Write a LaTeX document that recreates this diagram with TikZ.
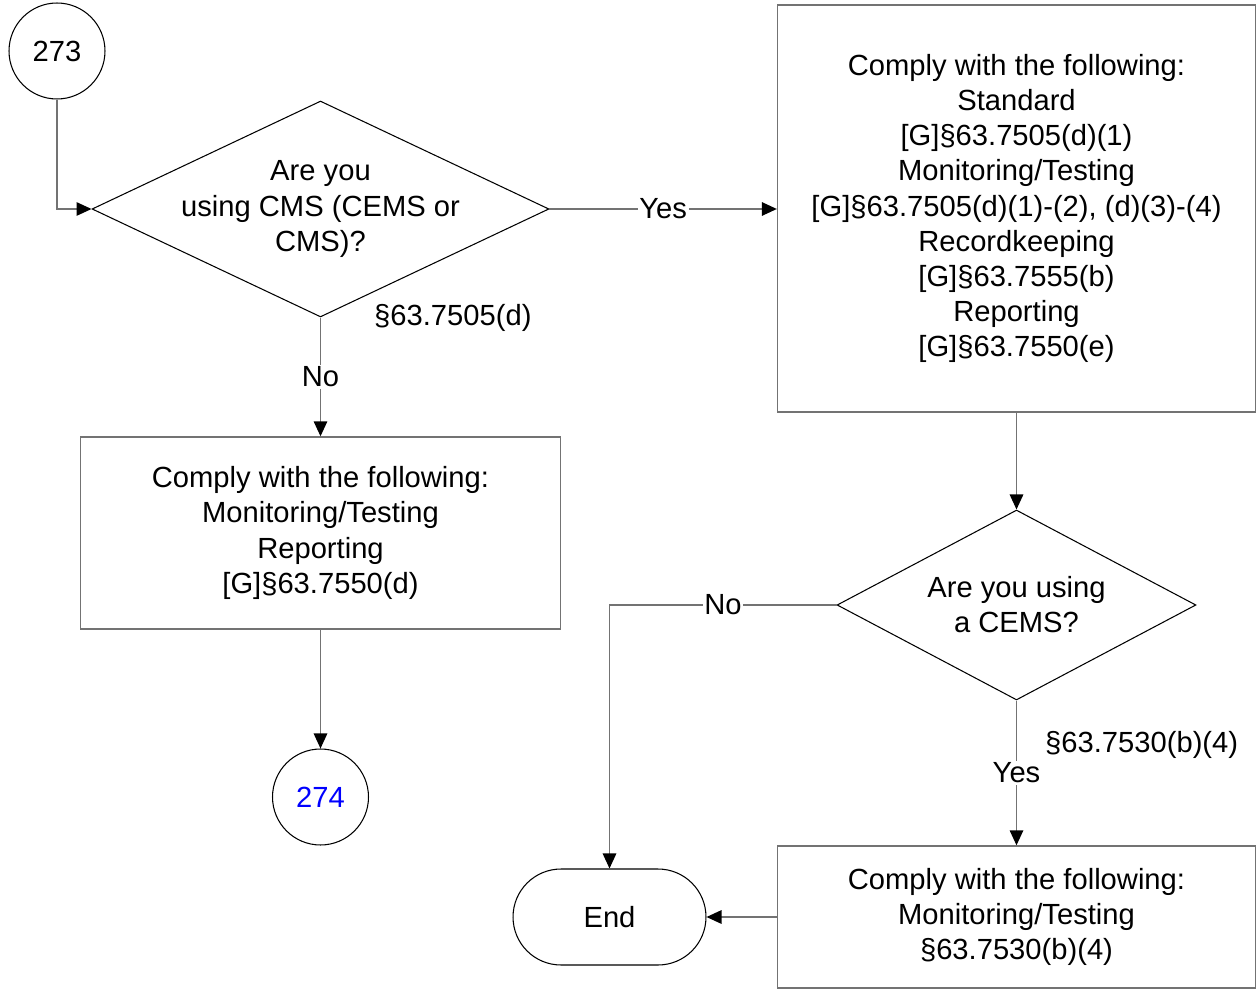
\documentclass[tikz,border=0pt]{standalone}
\usepackage{fontspec}
\setmainfont{Liberation Sans}
\usetikzlibrary{shapes.geometric,arrows.meta,positioning}

\begin{document}
\begin{tikzpicture}[x=0.02cm, y=-0.02cm,
    every node/.style={font=\fontsize{16.6}{20}\selectfont},
    conn/.style={draw=black!55, line width=0.8pt, -{Triangle[length=0.3cm,width=0.27cm,color=black]}},
    onpath/.style={fill=white, inner sep=1pt},
    offpage/.style={circle, draw, line width=0.6pt, minimum size=1.92cm, inner sep=0pt},
    decision/.style={diamond, draw, line width=0.6pt, inner sep=0pt},
    todo/.style={rectangle, draw=black!55, line width=0.8pt, align=center, inner sep=0pt},
    stop/.style={rectangle, rounded corners=0.96cm, draw, line width=0.6pt, minimum width=3.86cm, minimum height=1.92cm}]
    \useasboundingbox (0,0) rectangle (1257,989);

    % --- Kezdo csatlakozo (off-page 273) ---
    \node[offpage] (c273) at (57,51) {273};

    % --- Elso dontes (CMS?) ---
    \node[decision, minimum width=9.14cm, minimum height=4.32cm,
          label={[align=center]center:Are you\\using CMS (CEMS or\\CMS)?}] (q1) at (320.5,209) {};
    \node[anchor=west] (ref1) at ([xshift=0.95cm]q1.south) {§63.7505(d)};

    % --- Jobb felso doboz ---
    \node[todo, minimum width=9.56cm, minimum height=8.14cm] (b1) at (1016.5,208.5)
        {Comply with the following:\\Standard\\{[G]§63.7505(d)(1)}\\Monitoring/Testing\\{[G]§63.7505(d)(1)-(2), (d)(3)-(4)}\\Recordkeeping\\{[G]§63.7555(b)}\\Reporting\\{[G]§63.7550(e)}};

    % --- Bal doboz ---
    \node[todo, minimum width=9.6cm, minimum height=3.84cm] (b2) at (320.5,533)
        {Comply with the following:\\Monitoring/Testing\\Reporting\\{[G]§63.7550(d)}};

    % --- Csatlakozo 274 ---
    \node[offpage, text=blue] (c274) at (320.5,797) {274};

    % --- Masodik dontes (CEMS?) ---
    \node[decision, minimum width=7.18cm, minimum height=3.8cm,
          label={[align=center]center:Are you using\\a CEMS?}] (q2) at (1016.5,605) {};
    \node[anchor=west] (ref2) at ([xshift=0.45cm,yshift=-0.88cm]q2.south) {§63.7530(b)(4)};

    % --- Also doboz es vege ---
    \node[todo, minimum width=9.56cm, minimum height=2.84cm] (b3) at (1016.5,917)
        {Comply with the following:\\Monitoring/Testing\\§63.7530(b)(4)};
    \node[stop] (endn) at (609.5,917) {End};

    % --- Nyilak ---
    \draw[conn] (c273.south) |- (q1.west);
    \draw[conn] (q1.east) -- node[onpath] {Yes} (q1.east -| b1.west);
    \draw[conn] (q1.south) -- node[onpath] {No} (b2.north);
    \draw[conn] (b2.south) -- (c274.north);
    \draw[conn] (b1.south) -- (q2.north);
    \draw[conn] (q2.west) -| node[onpath, pos=0.25] {No} (endn.north);
    \draw[conn] (q2.south) -- node[onpath] {Yes} (b3.north);
    \draw[conn] (b3.west) -- (endn.east);
\end{tikzpicture}
\end{document}
